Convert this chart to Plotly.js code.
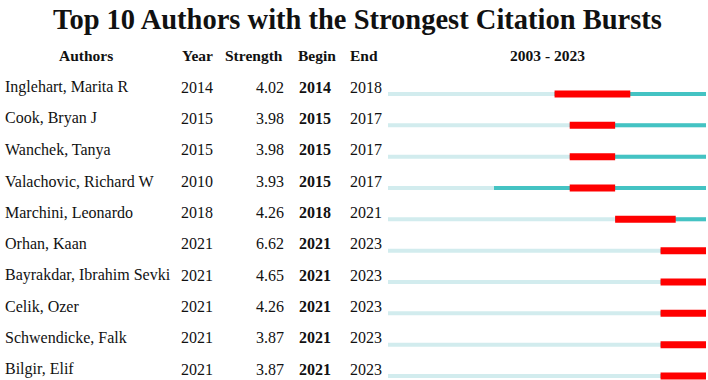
<!DOCTYPE html>
<html>
<head>
<meta charset="utf-8">
<script src="https://cdn.plot.ly/plotly-3.0.1.min.js"></script>
<style>
  html, body { margin: 0; padding: 0; background: #fff; }
  #chart { width: 708px; height: 380px; }
</style>
</head>
<body>
<div id="chart"></div>
<script>
// Citation burst table: authors, first-appearance year, burst strength and burst span
const authors = [
  "Inglehart, Marita R",
  "Cook, Bryan J",
  "Wanchek, Tanya",
  "Valachovic, Richard W",
  "Marchini, Leonardo",
  "Orhan, Kaan",
  "Bayrakdar, Ibrahim Sevki",
  "Celik, Ozer",
  "Schwendicke, Falk",
  "Bilgir, Elif"
];
const years     = [2014, 2015, 2015, 2010, 2018, 2021, 2021, 2021, 2021, 2021];
const strengths = [4.02, 3.98, 3.98, 3.93, 4.26, 6.62, 4.65, 4.26, 3.87, 3.87];
const begins    = [2014, 2015, 2015, 2015, 2018, 2021, 2021, 2021, 2021, 2021];
const ends      = [2018, 2017, 2017, 2017, 2021, 2023, 2023, 2023, 2023, 2023];
const spanStart = 2003;
const spanEnd   = 2023;

const W = 708;
const px = v => v / W;
const FONT = "Liberation Serif, Times New Roman, serif";

// Build the three timeline layers, one segment per row separated by null gaps
const light = { x: [], y: [] }, dark = { x: [], y: [] }, burst = { x: [], y: [] };
authors.forEach((a, i) => {
  light.x.push(spanStart, spanEnd + 1, null); light.y.push(i, i, null);
  dark.x.push(years[i], spanEnd + 1, null);   dark.y.push(i, i, null);
  burst.x.push(begins[i], ends[i] + 1, null); burst.y.push(i, i, null);
});

const lineTrace = (seg, color, width) => ({
  type: "scatter", mode: "lines", x: seg.x, y: seg.y,
  line: { color: color, width: width }, hoverinfo: "skip", showlegend: false
});

const traces = [
  lineTrace(light, "#d2ecee", 4),
  lineTrace(dark, "#44c3c3", 4),
  lineTrace(burst, "#ff0000", 7)
];

const ann = [];
const txt = (text, x, y, opts) => Object.assign({
  text: text, x: x, y: y, xref: "paper", yref: "y",
  showarrow: false, xanchor: "left", yanchor: "middle",
  font: { family: FONT, size: 16, color: "#111" }
}, opts || {});

// Title and column headers
ann.push(txt("<b>Top 10 Authors with the Strongest Citation Bursts</b>", 358 / W, 1 - 19 / 380,
  { yref: "paper", xanchor: "center", font: { family: FONT, size: 28.5, color: "#111" } }));
const hdrY = 1 - 55 / 380;
const hdr = (t, x, anchor) => txt("<b>" + t + "</b>", px(x), hdrY,
  { yref: "paper", xanchor: anchor || "left", font: { family: FONT, size: 15.5, color: "#111" } });
ann.push(hdr("Authors", 86, "center"));
ann.push(hdr("Year", 180));
ann.push(hdr("Strength", 223));
ann.push(hdr("Begin", 296));
ann.push(hdr("End", 348));
ann.push(hdr(spanStart + " - " + spanEnd, 547, "center"));

// Table rows, text sits a little above its timeline
authors.forEach((a, i) => {
  const o = { yshift: 7 };
  ann.push(txt(a, px(3), i, o));
  ann.push(txt(String(years[i]), px(179), i, o));
  ann.push(txt(strengths[i].toFixed(2), px(286), i, Object.assign({ xanchor: "right" }, o)));
  ann.push(txt("<b>" + begins[i] + "</b>", px(297), i, o));
  ann.push(txt(String(ends[i]), px(348), i, o));
});

const rowH = 31.33;
const layout = {
  width: 708, height: 380,
  margin: { l: 0, r: 0, t: 0, b: 0 },
  paper_bgcolor: "#fff", plot_bgcolor: "#fff",
  xaxis: {
    domain: [px(388), px(706)], range: [spanStart, spanEnd + 1],
    visible: false, fixedrange: true
  },
  yaxis: {
    domain: [0, 1], range: [9 + 4 / rowH, -94 / rowH],
    visible: false, fixedrange: true
  },
  annotations: ann
};

Plotly.newPlot("chart", traces, layout, { staticPlot: true, displayModeBar: false });
</script>
</body>
</html>
